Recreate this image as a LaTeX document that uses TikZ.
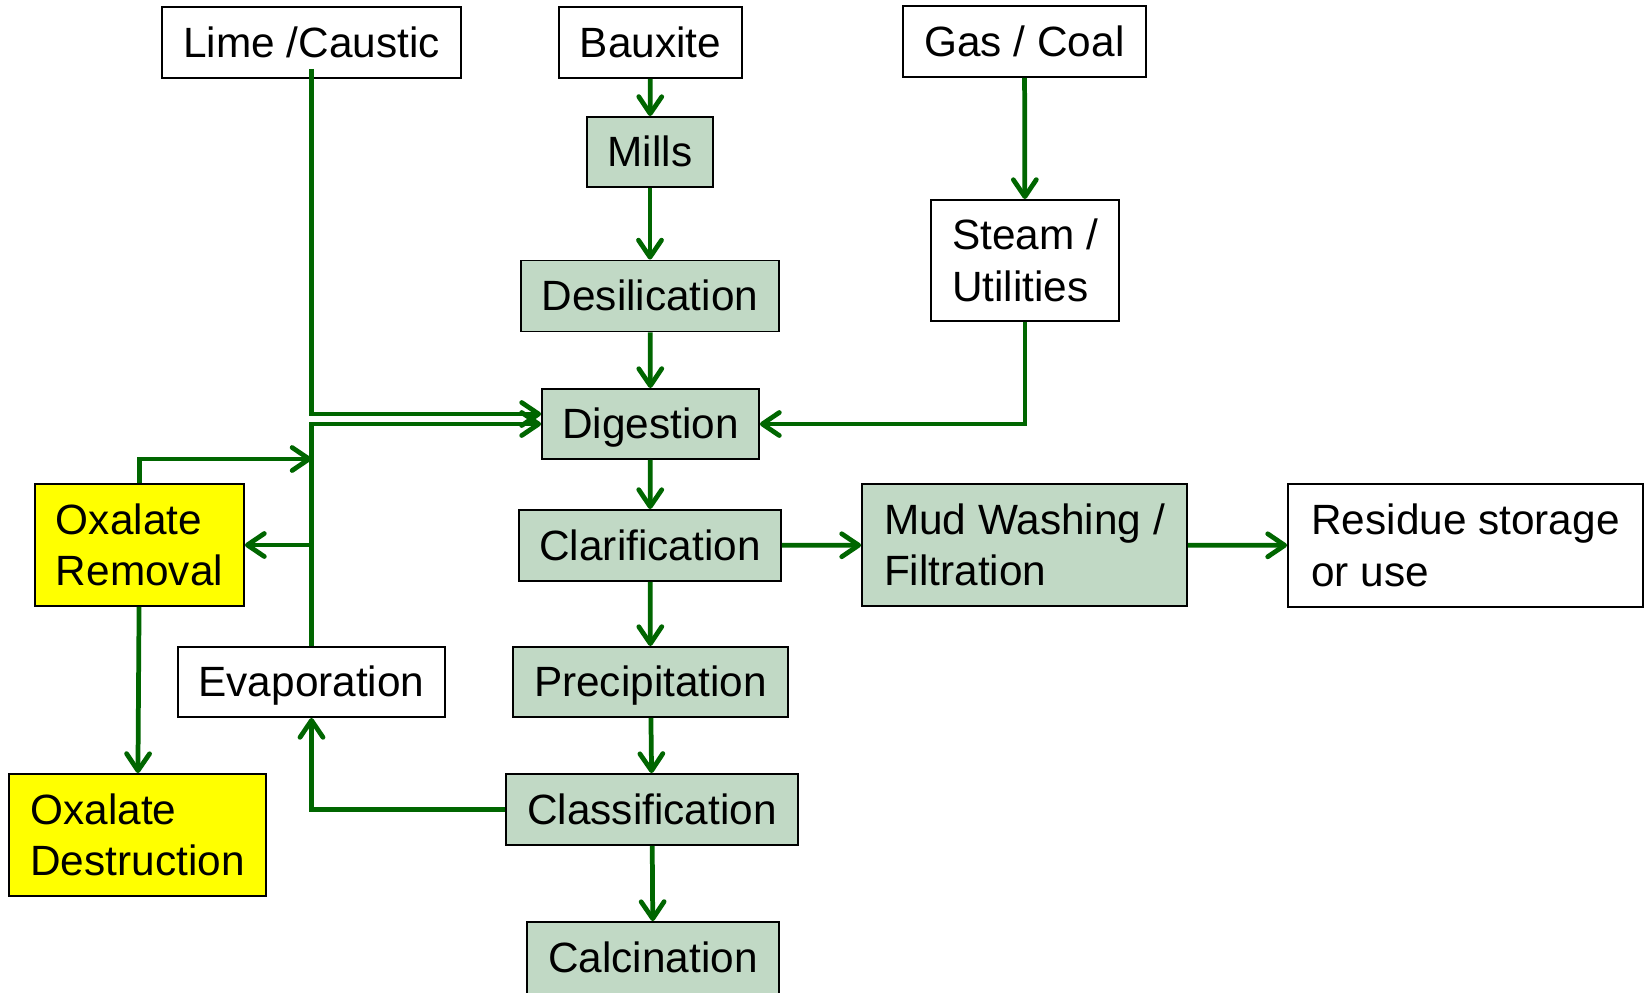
\documentclass[tikz,border=0pt]{standalone}
\usepackage{fontspec}
\setmainfont{Liberation Sans}
\usetikzlibrary{arrows.meta}
\definecolor{procfill}{RGB}{193,217,197}
\definecolor{flowgreen}{RGB}{0,102,0}
\definecolor{oxyellow}{RGB}{255,255,0}
\begin{document}
\begin{tikzpicture}[x=0.02cm,y=-0.02cm,
  every node/.style={draw,line width=1.1pt,inner sep=0pt,align=left,
    minimum height=1.42cm,font=\fontsize{24.1}{29.3}\selectfont},
  oneline/.style={text height=21.8pt,text depth=5.1pt},
  proc/.style={fill=procfill},
  feed/.style={fill=white},
  oxal/.style={fill=oxyellow},
  flow/.style={->,line width=2.7pt,draw=flowgreen},
  >={Straight Barb[length=0.34cm,width=0.46cm,round]}]
\useasboundingbox (0,0) rectangle (1647,992);
% feeds along the top
\node[feed,oneline,minimum width=5.98cm] (lime) at (311.5,42.5) {Lime /Caustic};
\node[feed,oneline,minimum width=3.66cm] (baux) at (650.5,42.5) {Bauxite};
\node[feed,oneline,minimum width=4.86cm] (gas) at (1024.5,41.5) {Gas / Coal};
% main line
\node[proc,oneline,minimum width=2.52cm,minimum height=1.4cm] (mills) at (650,152) {Mills};
\node[proc,oneline,minimum width=5.16cm] (desil) at (650,296) {Desilication};
\node[feed,minimum width=3.76cm,minimum height=2.42cm] (steam) at (1025,260.5)
  {Steam /\\Utilities};
\node[proc,oneline,minimum width=4.34cm,minimum height=1.4cm] (dig) at (650.5,424) {Digestion};
\node[proc,oneline,minimum width=5.24cm] (clar) at (650,545.5) {Clarification};
\node[proc,minimum width=6.5cm,minimum height=2.44cm] (mud) at (1024.5,545)
  {Mud Washing /\\Filtration};
\node[feed,minimum width=7.1cm,minimum height=2.46cm] (res) at (1465.5,545.5)
  {Residue storage\\or use};
\node[proc,oneline,minimum width=5.5cm,minimum height=1.4cm] (prec) at (650.5,682) {Precipitation};
\node[proc,oneline,minimum width=5.84cm] (clas) at (652,809.5) {Classification};
\node[proc,oneline,minimum width=5.04cm,minimum height=1.44cm] (calc) at (653,958) {Calcination};
% liquor side
\node[oxal,minimum width=4.18cm,minimum height=2.44cm] (orem) at (139.5,545)
  {Oxalate\\Removal};
\node[feed,oneline,minimum width=5.34cm,minimum height=1.4cm] (evap) at (311.5,682) {Evaporation};
\node[oxal,minimum width=5.14cm,minimum height=2.44cm] (odes) at (137.5,835)
  {Oxalate\\Destruction};
\coordinate (tee) at (evap.north |- orem.east);
\coordinate (join) at (311.5,459);
% connectors
\draw[flow] (baux) -- (mills);
\draw[flow] (mills) -- (desil);
\draw[flow] (desil) -- (dig);
\draw[flow] (dig) -- (clar);
\draw[flow] (clar) -- (prec);
\draw[flow] (prec) -- (clas);
\draw[flow] (clas) -- (calc);
\draw[flow] (gas) -- (steam);
\draw[flow] (steam.south) |- (dig.east);
\draw[flow] ([yshift=0.2cm]lime.south) |- ([yshift=0.2cm]dig.west);
\draw[flow] (evap.north) |- (dig.west);
\draw[flow] (tee) -- (orem.east);
\draw[flow] (orem.north) |- (join);
\draw[flow] (orem) -- (odes);
\draw[flow] (clas.west) -| (evap.south);
\draw[flow] (clar) -- (mud);
\draw[flow] (mud) -- (res);
\end{tikzpicture}
\end{document}
